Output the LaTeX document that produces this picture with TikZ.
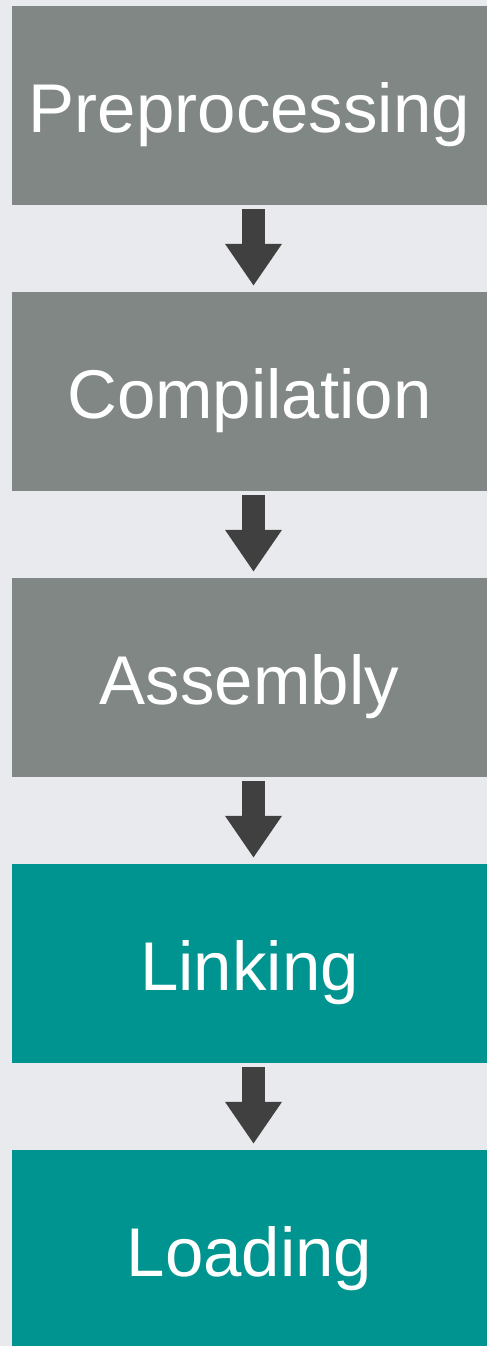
\documentclass[tikz,border=0pt]{standalone}
\usepackage{fontspec}
\setmainfont{Liberation Sans}
\usetikzlibrary{arrows.meta}
\definecolor{bg}{HTML}{E9EAED}
\definecolor{greybox}{HTML}{808784}
\definecolor{tealbox}{HTML}{009490}
\definecolor{arrowc}{HTML}{404040}
\tikzset{
  stage/.style={minimum width=475pt, minimum height=199pt, inner sep=0pt, text=white,
    text height=54pt, text depth=0pt, font=\fontsize{69}{72}\selectfont},
  greystage/.style={stage, fill=greybox},
  tealstage/.style={stage, fill=tealbox},
  flow/.style={draw=arrowc, line width=23pt, -{Triangle[length=42pt,width=54pt]}, shorten <=4pt, shorten >=6pt}
}
\begin{document}
\begin{tikzpicture}[x=1pt,y=1pt]
\fill[bg] (0,0) rectangle (487,-1346);
\useasboundingbox (0,0) rectangle (487,-1346);
\begin{scope}
\clip (0,0) rectangle (487,-1346);
\node[greystage] (b1) at (249.5,-105.5) {Preprocessing};
\node[greystage] (b2) at (249.5,-391.5) {Compilation};
\node[greystage] (b3) at (249.5,-677.5) {Assembly};
\node[tealstage] (b4) at (249.5,-963.5) {Linking};
\node[tealstage] (b5) at (249.5,-1249.5) {Loading};
\end{scope}
\draw[flow] ([xshift=4pt]b1.south) -- ([xshift=4pt]b2.north);
\draw[flow] ([xshift=4pt]b2.south) -- ([xshift=4pt]b3.north);
\draw[flow] ([xshift=4pt]b3.south) -- ([xshift=4pt]b4.north);
\draw[flow] ([xshift=4pt]b4.south) -- ([xshift=4pt]b5.north);
\end{tikzpicture}
\end{document}
